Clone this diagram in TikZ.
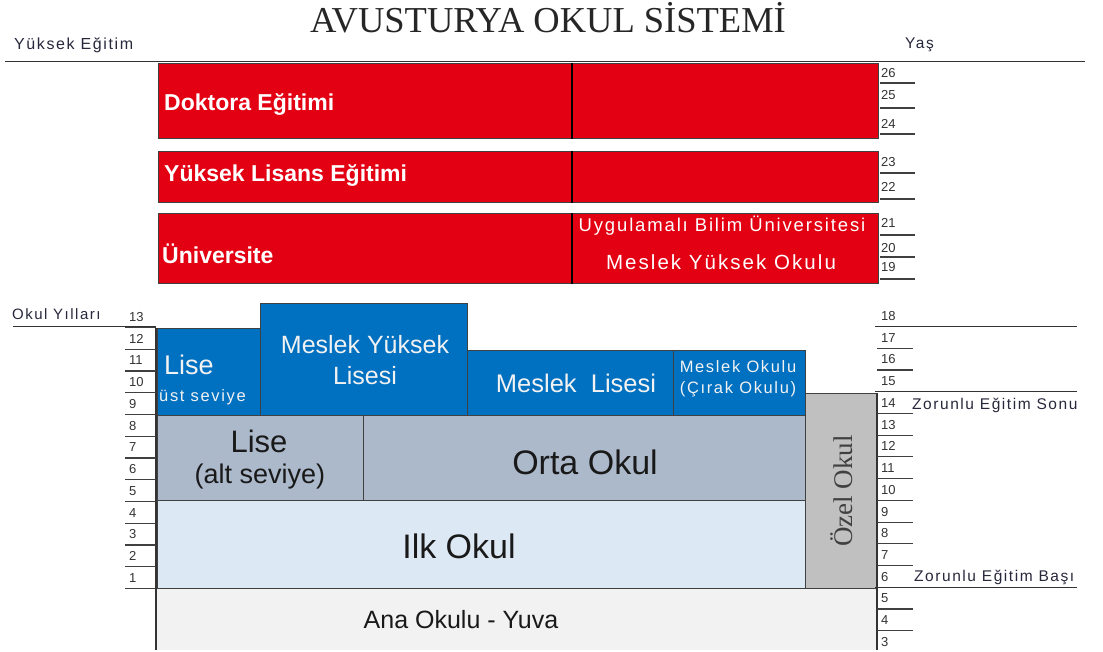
\documentclass[tikz,border=0pt]{standalone}
\usepackage{fontspec}
\setmainfont{Liberation Sans}
\newfontfamily\titlefont{Liberation Serif}
\newfontfamily\widesans[LetterSpace=10]{Liberation Sans}
\definecolor{avred}{RGB}{226,0,18}
\definecolor{avblue}{RGB}{0,112,192}
\definecolor{avgrey}{RGB}{172,185,203}
\definecolor{avlight}{RGB}{221,232,245}
\definecolor{avozel}{RGB}{192,192,192}
\definecolor{avana}{RGB}{242,242,242}
\definecolor{avtext}{RGB}{40,40,60}
\newcommand{\fs}[1]{\fontsize{#1}{#1}\selectfont}
\begin{document}
\begin{tikzpicture}[x=1pt,y=-1pt,
  box/.style={rectangle, draw=black!75, line width=0.8pt, anchor=north west, inner sep=0pt},
  redbox/.style={box, fill=avred},
  bluebox/.style={box, fill=avblue},
  greybox/.style={box, fill=avgrey},
  lightbox/.style={box, fill=avlight},
  redtitle/.style={anchor=west, text=white, font=\bfseries\fs{23}, inner sep=0pt},
  redsub/.style={text=white, font=\widesans\fs{18}, inner sep=0pt},
  bluetxt/.style={text=black!5, inner sep=0pt, align=center},
  darktxt/.style={text=black!90, inner sep=0pt, align=center},
  axislbl/.style={anchor=west, text=avtext, font=\widesans\fs{15.5}, inner sep=0pt},
  numlbl/.style={anchor=west, text=black!80, font=\fs{13}, inner sep=0pt},
  tick/.style={black!75, line width=1.1pt},
  axisline/.style={black!80, line width=1pt}
]
\useasboundingbox (0,0) rectangle (1103,652);
\fill[white] (0,0) rectangle (1103,652);

% title
\node[text=black!85, font=\titlefont\fs{36.5}, inner sep=0pt] (title) at (548,18) {AVUSTURYA OKUL SİSTEMİ};

% top axis
\node[axislbl, font=\widesans\fs{16}] (yuksek) at (14,45) {Yüksek Eğitim};
\node[axislbl] (yas) at (905,45) {Yaş};
\coordinate (topL) at (5,62);
\coordinate (topR) at (1085,62);
\draw[axisline] (topL) -- (topR);

% higher education boxes
\node[redbox, minimum width=720pt, minimum height=75pt] (dok) at (158,63) {};
\node[redbox, minimum width=720pt, minimum height=51pt] (yl) at (158,151) {};
\node[redbox, minimum width=720pt, minimum height=70pt] (uni) at (158,213) {};
\foreach \b in {dok,yl,uni}{
  \draw[black, line width=1.2pt] (572,0 |- \b.north) -- (572,0 |- \b.south);
}
\node[redtitle] (doktxt) at (164,104) {Doktora Eğitimi};
\node[redtitle] (yltxt) at (164,175) {Yüksek Lisans Eğitimi};
\node[redtitle] (unitxt) at (162,254) {Üniversite};
\node[redsub, font=\widesans\fs{18.5}] (uyg) at (722,226) {Uygulamalı Bilim Üniversitesi};
\node[redsub, font=\widesans\fs{20.5}] (myo) at (721,262) {Meslek Yüksek Okulu};

% upper age ticks
\foreach \n/\ty/\ly in {26/73/83, 25/95/108, 24/124/134, 23/162/173, 22/187/199, 21/223/235, 20/248/257, 19/267/279}{
  \node[numlbl] (age\n) at (881,\ty) {\n};
  \draw[tick] (880,\ly) -- (915,\ly);
}

% school boxes
\node[bluebox, minimum width=103pt, minimum height=87pt] (liseust) at (157,328) {};
\node[bluebox, minimum width=207pt, minimum height=112pt] (myl) at (260,303) {};
\node[bluebox, minimum width=206pt, minimum height=65pt] (ml) at (467,350) {};
\node[bluebox, minimum width=132pt, minimum height=65pt] (mo) at (673,350) {};
\node[greybox, minimum width=206pt, minimum height=85pt] (lisealt) at (157,415) {};
\node[greybox, minimum width=442pt, minimum height=85pt] (orta) at (363,415) {};
\node[lightbox, minimum width=648pt, minimum height=88pt] (ilk) at (157,500) {};
\node[box, fill=avozel, minimum width=72pt, minimum height=195pt] (ozel) at (805,393) {};
\fill[avana] (157,589) rectangle (877,650);
\node[inner sep=0pt] (ana) at (461,620) {};

% texts
\node[bluetxt, anchor=west, font=\fs{27}] (lisetxt) at (164,365) {Lise};
\node[bluetxt, anchor=west, font=\widesans\fs{16.5}] (usttxt) at (159,397) {üst seviye};
\node[bluetxt, font=\fs{25}, align=center] (myltxt) at (365,360) {Meslek Yüksek\\[6pt]Lisesi};
\node[bluetxt, font=\fs{25.5}] (mltxt) at (576,383) {Meslek\ \ Lisesi};
\node[bluetxt, font=\widesans\fs{16.5}, align=center] (motxt) at (738,379) {Meslek Okulu\\[5pt](Çırak Okulu)};
\node[darktxt, font=\fs{31}] (lise2) at (259,441) {Lise};
\node[darktxt, font=\fs{27}] (altsev) at (260,477) {(alt seviye)};
\node[darktxt, font=\fs{34}] (ortatxt) at (585,462) {Orta Okul};
\node[darktxt, font=\fs{34}] (ilktxt) at (459,546) {Ilk Okul};
\node[darktxt, font=\fs{25}] (anatxt) at (ana) {Ana Okulu - Yuva};
\node[text=black!75, font=\titlefont\fs{27}, rotate=90, inner sep=0pt] (ozeltxt) at (ozel.center) {Özel Okul};

% left axis
\node[axislbl, font=\widesans\fs{15}] (okul) at (12,314) {Okul Yılları};
\coordinate (okulL) at (13,327);
\coordinate (okulR) at (156,327);
\draw[axisline] (okulL) -- (okulR);
\coordinate (leftT) at (156,328);
\coordinate (leftB) at (156,650);
\draw[axisline, line width=1.3pt] (leftT) -- (leftB);
\foreach \n in {13,12,...,1}{
  \pgfmathsetmacro{\yy}{578-(\n-1)*21.75}
  \node[numlbl] (yr\n) at (129,\yy) {\n};
  \draw[tick] (125,\yy+10.5) -- (156,\yy+10.5);
}

% right axis
\coordinate (rightT) at (877,393);
\coordinate (rightB) at (877,650);
\draw[axisline, line width=1.3pt] (rightT) -- (rightB);
\foreach \n in {18,17,...,3}{
  \pgfmathsetmacro{\yy}{642-(\n-3)*21.73}
  \node[numlbl] (ag\n) at (881,\yy) {\n};
}
\foreach \n in {17,16,14,13,12,11,10,9,8,7,5,4}{
  \pgfmathsetmacro{\yy}{642-(\n-3)*21.73+10.5}
  \draw[tick] (877,\yy) -- (913,\yy);
}
\foreach \n in {18,15,6}{
  \pgfmathsetmacro{\yy}{642-(\n-3)*21.73+10.5}
  \draw[axisline, line width=1.3pt] (875,\yy) -- (1077,\yy);
}
\node[axislbl] (sonu) at (912,405) {Zorunlu Eğitim Sonu};
\node[axislbl] (basi) at (914,577) {Zorunlu Eğitim Başı};
\end{tikzpicture}
\end{document}
